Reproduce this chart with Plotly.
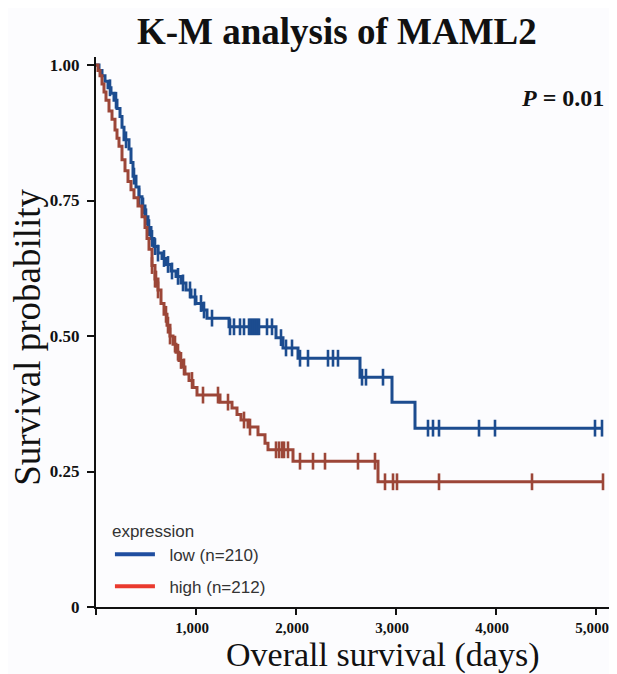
import numpy as np
import plotly.graph_objects as go

# ---- data ----
low_t = [0, 30, 60, 90, 120, 150, 180, 210, 240, 260, 280, 330, 350, 370, 400, 430, 460, 490,
         520, 550, 580, 620, 660, 700, 750, 800, 850, 900, 950, 1000, 1060, 1110, 1330, 1800,
         1870, 2020, 2640, 2960, 3190, 5060]
low_s = [1.0, 0.99, 0.98, 0.97, 0.958, 0.948, 0.935, 0.92, 0.905, 0.885, 0.862, 0.845, 0.82,
         0.795, 0.775, 0.757, 0.74, 0.72, 0.70, 0.68, 0.665, 0.653, 0.643, 0.632, 0.62, 0.61,
         0.598, 0.585, 0.572, 0.56, 0.548, 0.533, 0.517, 0.497, 0.478, 0.459, 0.424, 0.378,
         0.330, 0.330]
low_cens = [140, 200, 300, 380, 430, 470, 500, 530, 560, 590, 620, 680, 720, 760, 820, 870, 940,
            990, 1050, 1080, 1160, 1340, 1380, 1440, 1480, 1530, 1550, 1570, 1590, 1610, 1630,
            1710, 1760, 1850, 1900, 1960, 2040, 2120, 2320, 2370, 2420, 2660, 2700, 2870, 3320,
            3370, 3430, 3830, 3990, 4990, 5060]

high_t = [0, 20, 40, 60, 80, 100, 130, 160, 190, 210, 230, 260, 290, 320, 350, 380, 420, 460,
          490, 510, 530, 560, 590, 620, 650, 680, 710, 740, 770, 800, 830, 860, 890, 930, 970,
          1010, 1240, 1360, 1410, 1450, 1520, 1620, 1690, 1720, 1970, 2820, 5070]
high_s = [1.0, 0.99, 0.98, 0.965, 0.95, 0.935, 0.915, 0.90, 0.88, 0.865, 0.85, 0.825, 0.805,
          0.785, 0.77, 0.755, 0.74, 0.72, 0.70, 0.68, 0.66, 0.63, 0.605, 0.585, 0.56, 0.54,
          0.52, 0.50, 0.485, 0.47, 0.455, 0.443, 0.43, 0.418, 0.405, 0.391, 0.378, 0.367,
          0.355, 0.345, 0.332, 0.318, 0.302, 0.290, 0.269, 0.231, 0.231]
high_cens = [560, 590, 600, 620, 700, 720, 740, 790, 820, 850, 880, 960, 1070, 1220, 1320, 1480,
             1540, 1800, 1830, 1860, 1880, 1920, 2040, 2170, 2290, 2620, 2790, 2890, 2970, 3010,
             3430, 4360, 5070]

groups = ["low (n=210)", "high (n=212)"]
x_ticks = [0, 1000, 2000, 3000, 4000, 5000]
x_tick_text = ["", "1,000", "2,000", "3,000", "4,000", "5,000"]
y_ticks = [0, 0.25, 0.5, 0.75, 1.0]
y_tick_text = ["0", "0.25", "0.50", "0.75", "1.00"]

LOW_LINE = "#1c4c8f"
HIGH_LINE = "#9c4638"
LOW_LEG = "#1f4ea0"
HIGH_LEG = "#ea3a2e"
SERIF = "Liberation Serif"
SANS = "Liberation Sans"
NBSP = "\u00a0\u00a0"


def step_at(ts, ss, q):
    ts = np.asarray(ts)
    ss = np.asarray(ss)
    idx = np.searchsorted(ts, np.asarray(q), side="right") - 1
    return ss[np.clip(idx, 0, len(ss) - 1)]


fig = go.Figure()
for t, s, c, col in [(low_t, low_s, low_cens, LOW_LINE), (high_t, high_s, high_cens, HIGH_LINE)]:
    fig.add_trace(go.Scatter(x=t, y=s, mode="lines", line=dict(color=col, width=3, shape="hv"),
                             showlegend=False, hoverinfo="skip"))
    fig.add_trace(go.Scatter(x=c, y=step_at(t, s, c), mode="markers",
                             marker=dict(symbol="line-ns", size=12,
                                         line=dict(color=col, width=2.6)),
                             showlegend=False, hoverinfo="skip"))

for name, col, g in [(groups[0], LOW_LEG, "a"), (groups[1], HIGH_LEG, "b")]:
    fig.add_trace(go.Scatter(x=[None], y=[None], mode="lines", name=NBSP + name, legendgroup=g,
                             line=dict(color=col, width=4)))

fig.update_layout(
    width=609, height=666,
    margin=dict(l=88, r=5, t=49, b=67),
    paper_bgcolor="#fcfcfe", plot_bgcolor="#fcfcfe",
    title=dict(text="<b>K-M analysis of MAML2</b>", x=0.54, xref="container", xanchor="center",
               y=0.9655, yref="container", yanchor="middle",
               font=dict(family=SERIF, size=37, color="#111")),
    legend=dict(title=dict(text="expression", font=dict(family=SANS, size=17, color="#333")),
                font=dict(family=SANS, size=17, color="#333"), x=0.027, y=0.168,
                xanchor="left", yanchor="top", bgcolor="rgba(0,0,0,0)",
                traceorder="grouped", tracegroupgap=7, itemwidth=40),
    xaxis=dict(range=[0, 5160], tickvals=x_ticks, ticktext=x_tick_text, showgrid=False,
               zeroline=False, showline=True, linecolor="#111", linewidth=2, ticks="outside",
               ticklen=6, tickwidth=1.5, tickcolor="#111", automargin=False,
               ticklabelshift=-4,
               tickfont=dict(family=SERIF, size=15, color="#111", weight="bold")),
    yaxis=dict(range=[0, 1.0148], tickvals=y_ticks, ticktext=y_tick_text, showgrid=False,
               zeroline=False, showline=True, linecolor="#111", linewidth=2, ticks="outside",
               ticklen=7, tickwidth=1.5, tickcolor="#111", ticklabelstandoff=4,
               automargin=False,
               tickfont=dict(family=SERIF, size=17, color="#111", weight="bold")),
    annotations=[
        dict(text="Overall survival (days)", xref="paper", yref="paper", x=0.555, y=-0.087,
             xanchor="center", yanchor="middle", showarrow=False,
             font=dict(family=SERIF, size=34, color="#111")),
        dict(text="Survival probability", xref="paper", yref="paper", x=-0.133, y=0.49,
             xanchor="center", yanchor="middle", showarrow=False, textangle=-90,
             font=dict(family=SERIF, size=37, color="#111")),
        dict(text="<b><i>P</i> = 0.01</b>", xref="paper", yref="paper", x=0.988, y=0.925,
             xanchor="right", yanchor="middle", showarrow=False,
             font=dict(family=SERIF, size=24, color="#111")),
    ],
)

fig.write_html("out.html")
